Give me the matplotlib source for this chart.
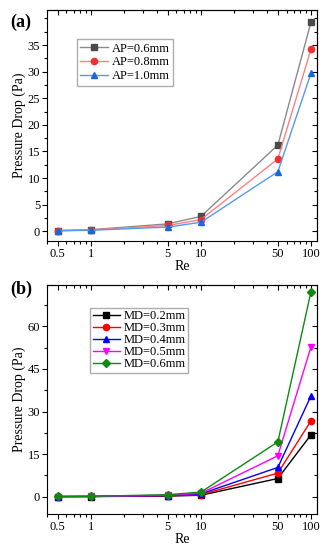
import matplotlib
matplotlib.use("Agg")
import matplotlib.pyplot as plt
from matplotlib.ticker import LogLocator, NullFormatter, FixedLocator, FixedFormatter, AutoMinorLocator

plt.rcParams['font.family'] = ['Liberation Serif', 'DejaVu Serif']

re_vals = [0.5, 1, 5, 10, 50, 100]
re_labels = ['0.5', '1', '5', '10', '50', '100']

# panel (a): aperture
ap_labels = ['AP=0.6mm', 'AP=0.8mm', 'AP=1.0mm']
ap_06 = [0.15, 0.3, 1.4, 2.8, 16.2, 39.3]
ap_08 = [0.12, 0.25, 1.1, 2.2, 13.6, 34.2]
ap_10 = [0.1, 0.2, 0.8, 1.7, 11.2, 29.7]

# panel (b): mesh diameter
md_labels = ['MD=0.2mm', 'MD=0.3mm', 'MD=0.4mm', 'MD=0.5mm', 'MD=0.6mm']
md_02 = [0.03, 0.05, 0.2, 0.5, 6.4, 21.8]
md_03 = [0.03, 0.06, 0.3, 0.7, 8.3, 26.7]
md_04 = [0.04, 0.08, 0.4, 1.0, 10.3, 35.5]
md_05 = [0.05, 0.1, 0.5, 1.2, 14.4, 52.8]
md_06 = [0.06, 0.12, 0.7, 1.6, 19.3, 72.2]


def style_axes(ax, yticks, ylim):
    ax.set_xscale('log')
    ax.set_xlim(0.4, 113)
    ax.set_ylim(*ylim)
    ax.xaxis.set_major_locator(FixedLocator(re_vals))
    ax.xaxis.set_major_formatter(FixedFormatter(re_labels))
    ax.xaxis.set_minor_locator(LogLocator(base=10, subs=range(2, 10), numticks=20))
    ax.xaxis.set_minor_formatter(NullFormatter())
    ax.set_yticks(yticks)
    ax.yaxis.set_minor_locator(AutoMinorLocator(2))
    ax.tick_params(which='both', direction='out', labelsize=9, width=0.8, pad=1.5)
    ax.tick_params(which='major', length=3.5)
    ax.tick_params(which='minor', length=2)

    # mirrored ticks pointing inward on top and right
    top = ax.secondary_xaxis('top')
    top.xaxis.set_major_locator(FixedLocator(re_vals))
    top.xaxis.set_minor_locator(LogLocator(base=10, subs=range(2, 10), numticks=20))
    top.xaxis.set_major_formatter(NullFormatter())
    top.xaxis.set_minor_formatter(NullFormatter())
    right = ax.secondary_yaxis('right')
    right.set_yticks(yticks)
    right.yaxis.set_minor_locator(AutoMinorLocator(2))
    right.yaxis.set_major_formatter(NullFormatter())
    for sec in (top, right):
        sec.tick_params(which='both', direction='in', width=0.8)
        sec.tick_params(which='major', length=3.5)
        sec.tick_params(which='minor', length=2)
        for s in sec.spines.values():
            s.set_linewidth(0.8)

    for s in ax.spines.values():
        s.set_linewidth(0.8)
    ax.set_xlabel('Re', fontsize=10, labelpad=0)
    ax.set_ylabel('Pressure Drop (Pa)', fontsize=10, labelpad=1)


fig = plt.figure(figsize=(3.29, 5.50), dpi=100)

ax1 = fig.add_axes([0.143, 0.562, 0.82, 0.42])
ax1.plot(re_vals, ap_06, '-s', color='#8a8a8a', mfc='#4a4a4a', mec='#4a4a4a', ms=4.5, lw=1, label=ap_labels[0])
ax1.plot(re_vals, ap_08, '-o', color='#ff8080', mfc='#f03030', mec='#f03030', ms=4.5, lw=1, label=ap_labels[1])
ax1.plot(re_vals, ap_10, '-^', color='#5599ee', mfc='#1a66dd', mec='#1a66dd', ms=4.5, lw=1, label=ap_labels[2])
style_axes(ax1, [0, 5, 10, 15, 20, 25, 30, 35], (-1.8, 41.6))
ax1.legend(loc='upper left', bbox_to_anchor=(0.11, 0.875), fontsize=9, frameon=True,
           fancybox=False, edgecolor='#999999', borderpad=0.3, labelspacing=0.15,
           handlelength=2.2, handletextpad=0.3, borderaxespad=0)
fig.text(0.03, 0.975, '(a)', fontsize=13, fontweight='bold', va='top')

ax2 = fig.add_axes([0.143, 0.066, 0.82, 0.416])
ax2.plot(re_vals, md_02, '-s', color='black', ms=4.5, lw=1, label=md_labels[0])
ax2.plot(re_vals, md_03, '-o', color='red', ms=4.5, lw=1, label=md_labels[1])
ax2.plot(re_vals, md_04, '-^', color='blue', ms=4.5, lw=1, label=md_labels[2])
ax2.plot(re_vals, md_05, '-v', color='magenta', ms=4.5, lw=1, label=md_labels[3])
ax2.plot(re_vals, md_06, '-D', color='#118811', ms=4, lw=1, label=md_labels[4])
style_axes(ax2, [0, 15, 30, 45, 60], (-6, 74.6))
ax2.legend(loc='upper left', bbox_to_anchor=(0.16, 0.9), fontsize=9, frameon=True,
           fancybox=False, edgecolor='#999999', borderpad=0.2, labelspacing=0.0,
           handlelength=2.2, handletextpad=0.3, borderaxespad=0)
fig.text(0.03, 0.49, '(b)', fontsize=13, fontweight='bold', va='top')

fig.savefig('out.png', dpi=100)
